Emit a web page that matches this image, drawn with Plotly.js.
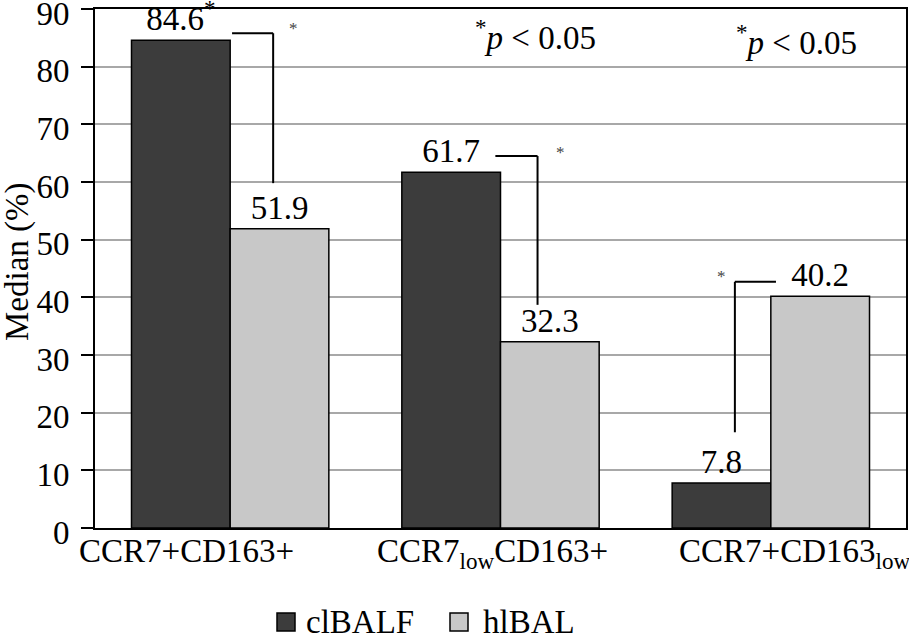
<!DOCTYPE html>
<html>
<head>
<meta charset="utf-8">
<script src="https://cdn.plot.ly/plotly-3.0.1.min.js"></script>
<style>html,body{margin:0;padding:0;background:#fff;}#chart{width:909px;height:639px;}</style>
</head>
<body>
<div id="chart"></div>
<script>
const categories = ["CCR7+CD163+", "CCR7lowCD163+", "CCR7+CD163low"];
const categoryLabels = ["CCR7+CD163+", "CCR7<sub>low</sub>CD163+", "CCR7+CD163<sub>low</sub>"];
const clBALF = [84.6, 61.7, 7.8];
const hlBAL = [51.9, 32.3, 40.2];
const clBALFText = ["84.6<sup>*</sup>", "61.7", "7.8"];
const hlBALText = ["51.9", "32.3", "40.2"];
const seriesNames = ["clBALF", "hlBAL"];
const seriesColors = ["#3c3c3c", "#c8c8c8"];
const yTicks = [0, 10, 20, 30, 40, 50, 60, 70, 80, 90];

const FONT = "Liberation Serif, Times New Roman, serif";
const F = 33;

const px = v => (v - 95) / 811;      // pixel x -> paper
const py = v => (528 - v) / 519;     // pixel y -> paper

const traces = [0, 1].map(i => ({
  type: "bar", name: seriesNames[i], x: categories, y: i === 0 ? clBALF : hlBAL,
  text: i === 0 ? clBALFText : hlBALText,
  textposition: "outside", cliponaxis: false, constraintext: "none",
  textfont: {family: FONT, size: F, color: "#000"},
  marker: {color: seriesColors[i], line: {color: "#000", width: 1.5}},
  hoverinfo: "none", showlegend: false
}));

const labelPos = [-0.16, 0.969, 2.089];
const annotations = categoryLabels.map((t, i) => ({
  text: t, x: labelPos[i], xref: "x", y: py(531), yref: "paper",
  xanchor: "center", yanchor: "top", showarrow: false,
  font: {family: FONT, size: F, color: "#000"}
}));

annotations.push({
  text: "Median (%)", textangle: -90, xref: "paper", x: px(17), yref: "paper", y: py(262),
  xanchor: "center", yanchor: "middle", showarrow: false,
  font: {family: FONT, size: F, color: "#000"}
});
annotations.push({
  text: "<sup>*</sup><i>p</i> < 0.05", xref: "paper", x: px(535), yref: "paper", y: py(35),
  xanchor: "center", yanchor: "middle", showarrow: false,
  font: {family: FONT, size: F, color: "#000"}
});
annotations.push({
  text: "<sup>*</sup><i>p</i> < 0.05", xref: "paper", x: px(796), yref: "paper", y: py(40),
  xanchor: "center", yanchor: "middle", showarrow: false,
  font: {family: FONT, size: F, color: "#000"}
});

// significance brackets
const brackets = [
  {x0: 0.007, x1: 0.159, yTop: 85.8, yBot: 59.8, vx: 0.159, sx: 0.233, sy: 86.6},
  {x0: 0.981, x1: 1.137, yTop: 64.5, yBot: 38.7, vx: 1.137, sx: 1.222, sy: 65.2},
  {x0: 1.867, x1: 2.019, yTop: 42.7, yBot: 16.6, vx: 1.867, sx: 1.819, sy: 43.6}
];
const shapes = [];
brackets.forEach(b => {
  shapes.push({type: "line", xref: "x", yref: "y", x0: b.x0, x1: b.x1, y0: b.yTop, y1: b.yTop, line: {color: "#000", width: 2}});
  shapes.push({type: "line", xref: "x", yref: "y", x0: b.vx, x1: b.vx, y0: b.yTop, y1: b.yBot, line: {color: "#000", width: 2}});
  annotations.push({text: "*", x: b.sx, xref: "x", y: b.sy, yref: "y", showarrow: false,
    xanchor: "center", yanchor: "middle", font: {family: FONT, size: 17, color: "#444"}});
});

// legend (drawn manually to match the square size)
const legendItems = [{sq: 277, tx: 304}, {sq: 450, tx: 481}];
legendItems.forEach((it, i) => {
  shapes.push({type: "rect", xref: "paper", yref: "paper", x0: px(it.sq), x1: px(it.sq + 18),
    y0: py(631), y1: py(613), fillcolor: seriesColors[i], line: {color: "#000", width: 1.5}});
  annotations.push({text: seriesNames[i], xref: "paper", x: px(it.tx), yref: "paper", y: py(622),
    xanchor: "left", yanchor: "middle", showarrow: false, font: {family: FONT, size: F, color: "#000"}});
});

const layout = {
  width: 909, height: 639,
  margin: {l: 95, r: 3, t: 9, b: 111},
  paper_bgcolor: "#fff", plot_bgcolor: "#fff",
  barmode: "group", bargap: 0.27, bargroupgap: 0,
  font: {family: FONT, size: F, color: "#000"},
  showlegend: false,
  xaxis: {type: "category", range: [-0.5, 2.5], showticklabels: false, ticks: "",
    showline: true, linecolor: "#000", linewidth: 2, mirror: true, showgrid: false, zeroline: false, fixedrange: true},
  yaxis: {range: [0, 90], tickvals: yTicks, ticktext: yTicks.map(String), ticks: "outside", ticklen: 12,
    tickwidth: 2, tickcolor: "#000", ticklabelstandoff: 5, ticklabeloverflow: "allow", ticklabelshift: 4,
    showline: true, linecolor: "#000", linewidth: 2, mirror: true,
    showgrid: true, gridcolor: "#a8a8a8", gridwidth: 2, zeroline: false,
    tickfont: {family: FONT, size: F, color: "#000"}, fixedrange: true},
  shapes: shapes,
  annotations: annotations
};

Plotly.newPlot("chart", traces, layout, {displayModeBar: false, staticPlot: true});
</script>
</body>
</html>
